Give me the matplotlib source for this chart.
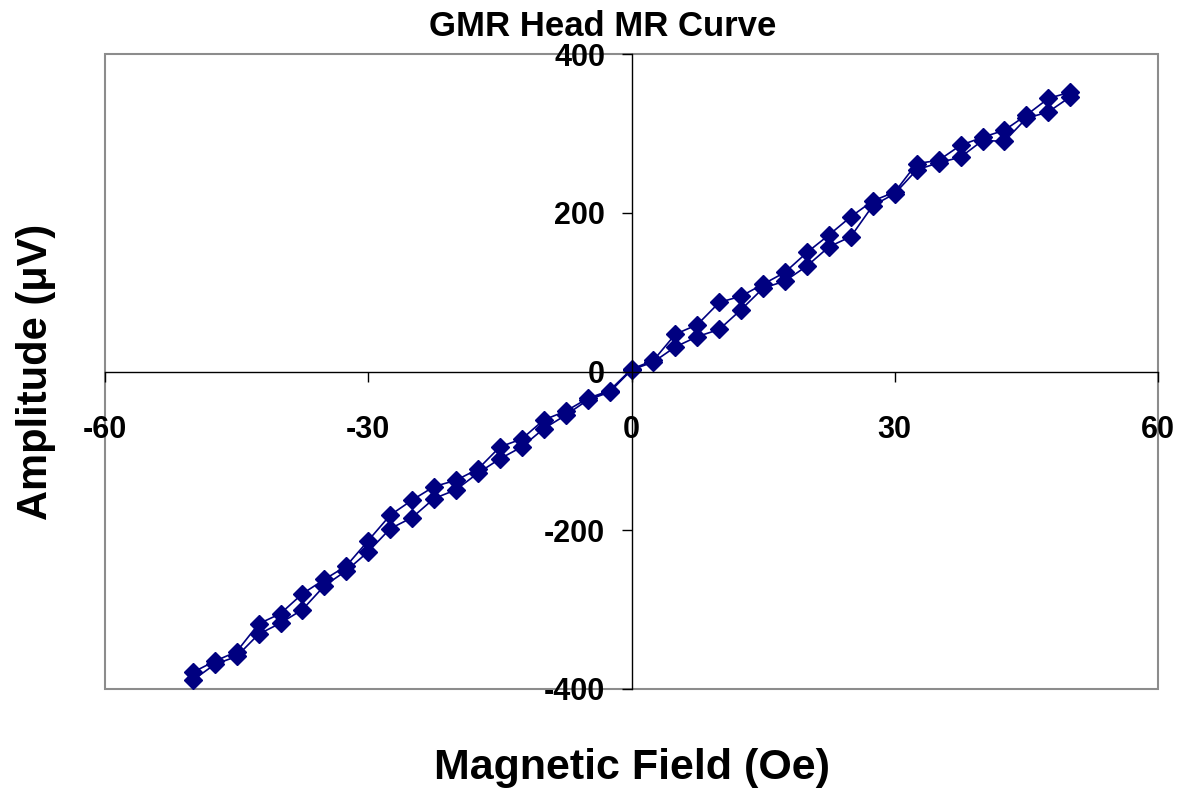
import matplotlib.pyplot as plt
import numpy as np
from matplotlib.patches import Rectangle

plt.rcParams['font.family'] = ['Liberation Sans', 'DejaVu Sans']
plt.rcParams['font.weight'] = 'bold'
plt.rcParams['axes.unicode_minus'] = False

# field sweep in Oe, 2.5 Oe steps
field = np.arange(-50, 50.1, 2.5)

# amplitude in uV, sweeping up (lower branch) then back down (upper branch)
amp_up = [-389, -369, -359, -331, -317, -300, -270, -251, -227, -198,
          -184, -160, -149, -128, -110, -95, -72, -55, -36, -26,
          2, 12, 31, 44, 53, 78, 105, 114, 133, 157,
          170, 209, 224, 254, 263, 270, 291, 290, 319, 327, 346]
amp_down = [-379, -365, -353, -318, -305, -280, -262, -245, -213, -181,
            -162, -145, -137, -123, -95, -85, -61, -50, -34, -24,
            3, 14, 47, 59, 87, 95, 110, 125, 150, 172,
            195, 215, 226, 262, 266, 285, 295, 304, 323, 344, 352]

x = np.concatenate([field, field[::-1]])
y = np.concatenate([amp_up, amp_down[::-1]])

fig = plt.figure(figsize=(11.92, 7.89), dpi=100)
ax = fig.add_axes([105/1192, 1-689/789, (1158-105)/1192, (689-54)/789])

ax.plot(x, y, color='#000080', lw=1.2, marker='D', ms=9.5, mec='#000080', mfc='#000080')

ax.set_xlim(-60, 60)
ax.set_ylim(-400, 400)
ax.set_xticks([-60, -30, 0, 30, 60])
ax.set_yticks([-400, -200, 0, 200, 400])

# axes cross at the origin, grey frame around the plot area
for s in ['top', 'right']:
    ax.spines[s].set_visible(False)
ax.spines['left'].set_position('zero')
ax.spines['bottom'].set_position('zero')
ax.spines['left'].set_linewidth(1.0)
ax.spines['bottom'].set_linewidth(1.0)
ax.add_patch(Rectangle((0, 0), 1, 1, transform=ax.transAxes, fill=False,
                       edgecolor='#8c8c8c', lw=1.5, zorder=0, clip_on=False))

ax.tick_params(axis='x', direction='out', length=7, width=1, pad=24, labelsize=22)
ax.tick_params(axis='y', direction='out', length=7, width=1, pad=12, labelsize=22)
for lbl in ax.get_xticklabels() + ax.get_yticklabels():
    lbl.set_fontweight('bold')

fig.text(603/1192, 1-26/789, 'GMR Head MR Curve', ha='center', va='center',
         fontsize=25, fontweight='bold')
fig.text(632/1192, 1-768/789, 'Magnetic Field (Oe)', ha='center', va='center',
         fontsize=31, fontweight='bold')
fig.text(36/1192, 1-372/789, 'Amplitude (μV)', ha='center', va='center',
         rotation=90, fontsize=30, fontweight='bold')

fig.savefig('out.png', dpi=100)
